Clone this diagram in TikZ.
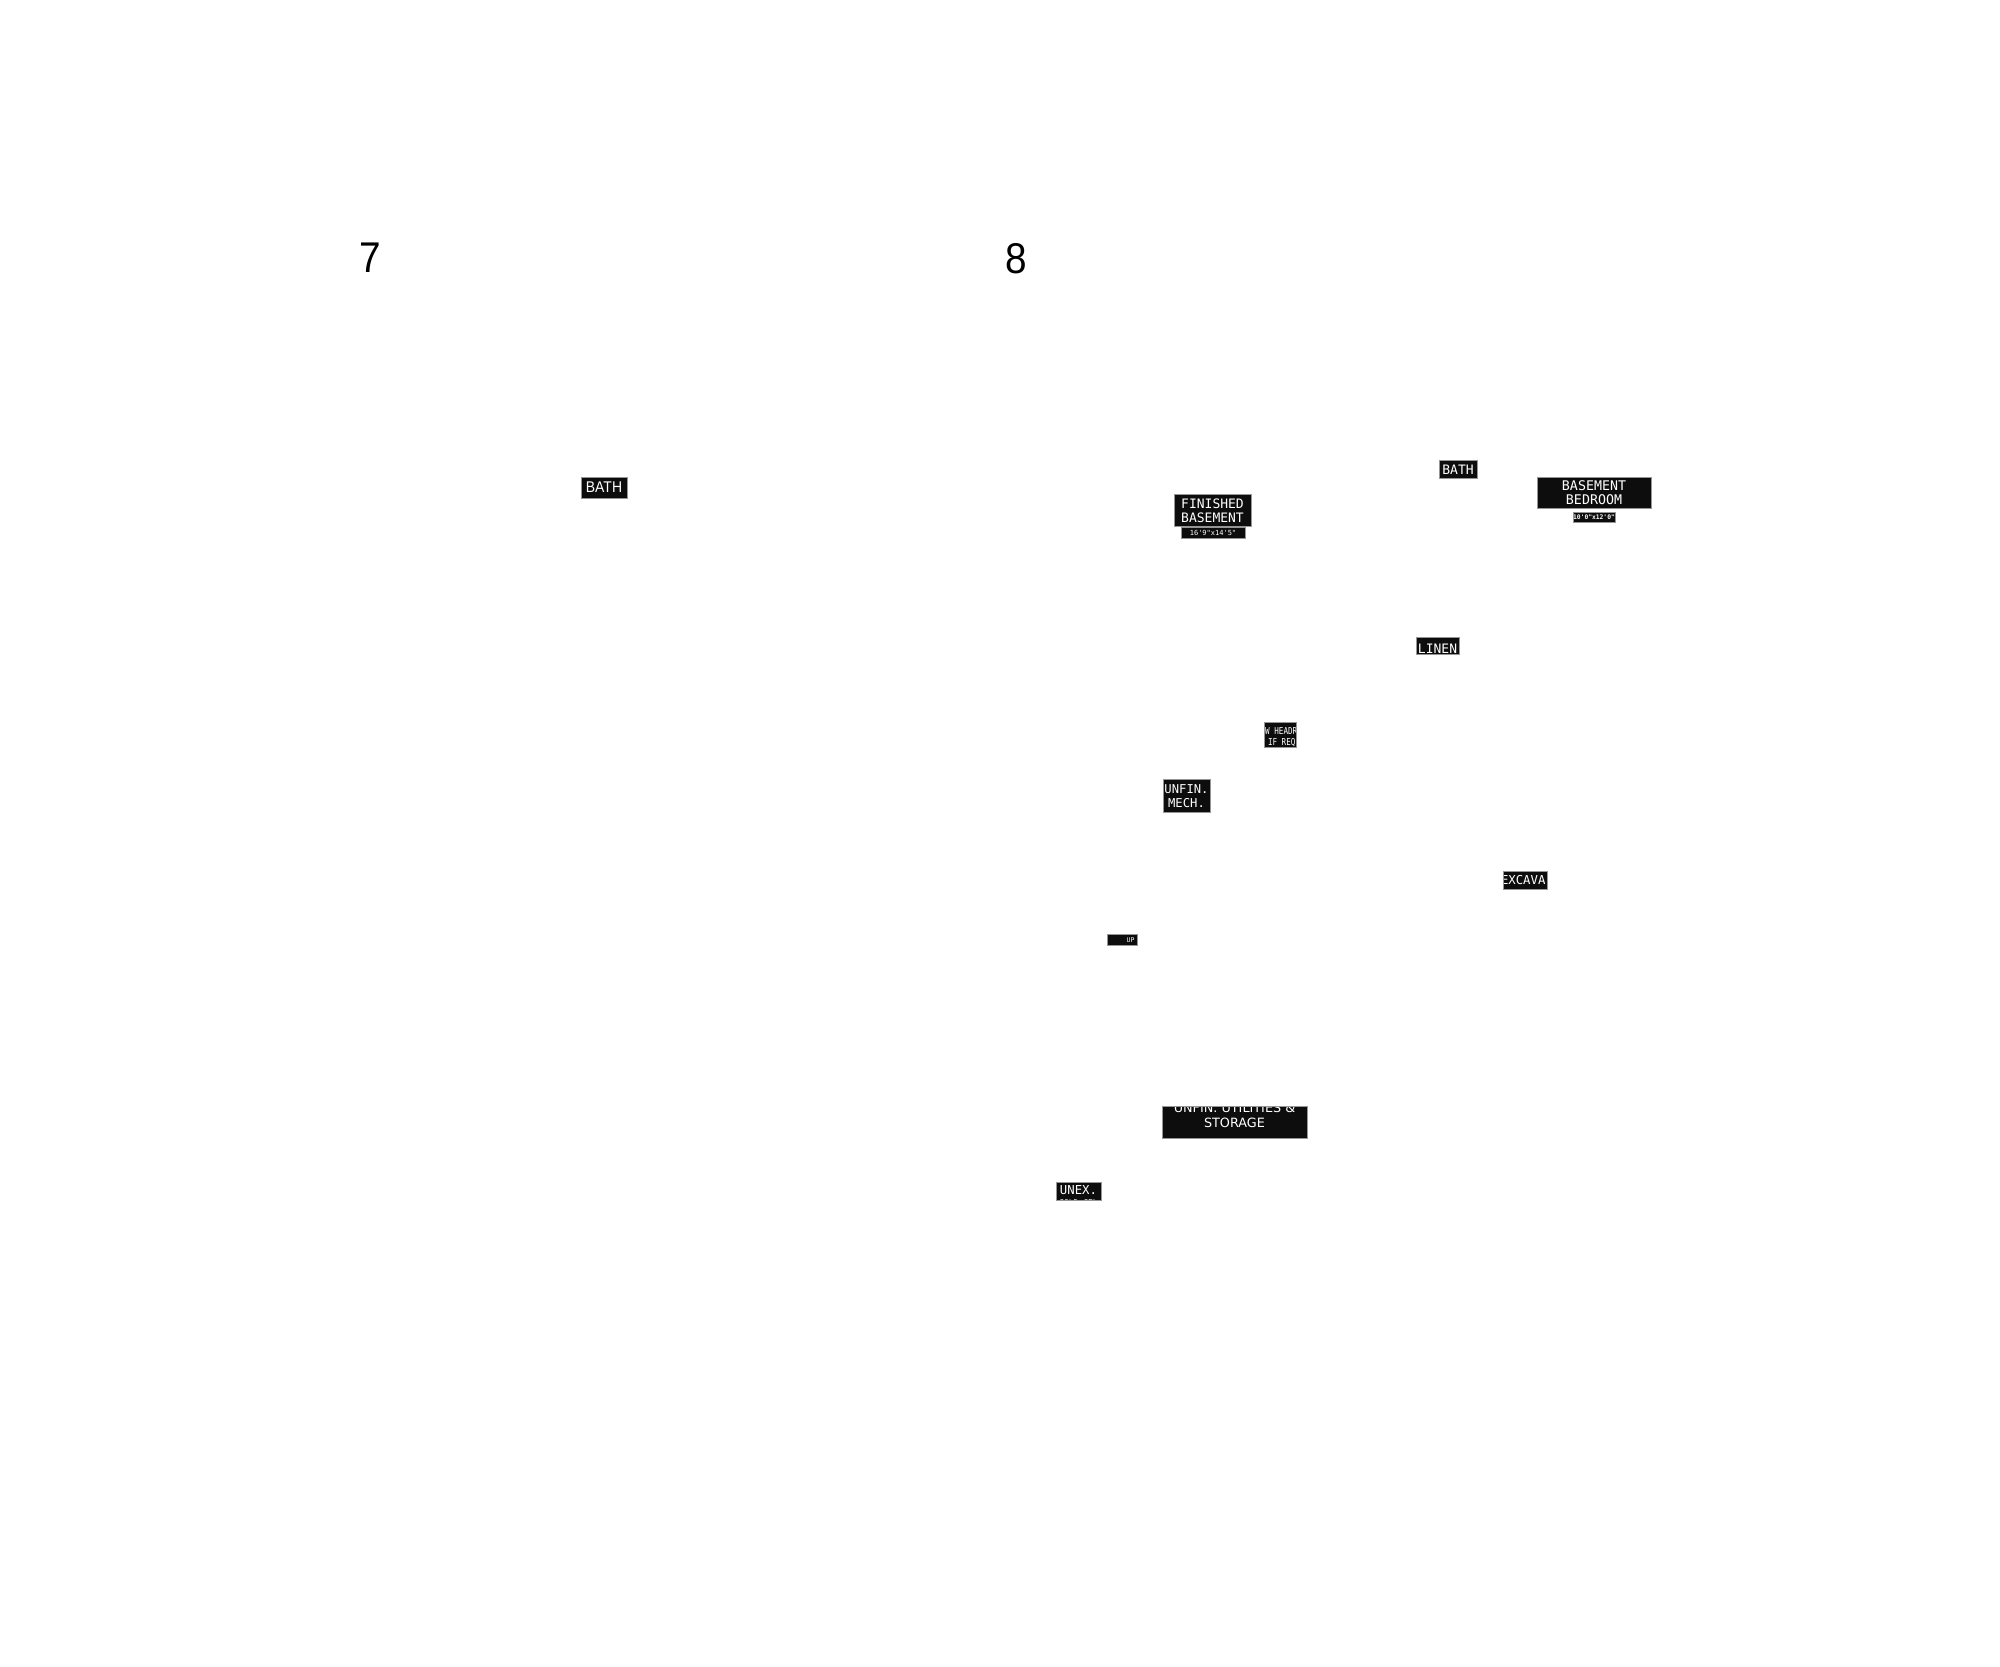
\documentclass[tikz,border=0pt]{standalone}
\usepackage{fontspec}
\setmainfont{Liberation Sans}
\newfontfamily\monof{DejaVu Sans Mono}[Ligatures=TeXOff]
\newfontfamily\sansf{DejaVu Sans}[Ligatures=TeXOff]
\tikzset{
  tagfill/.style={fill={rgb,255:red,13;green,13;blue,13}},
  tagline/.style={draw={rgb,255:red,150;green,150;blue,150},line width=0.7pt},
  tagtext/.style={text=white,inner sep=0pt,outer sep=0pt},
  bignum/.style={inner sep=0pt,outer sep=0pt,font=\fontsize{43}{43}\selectfont,anchor=base west,xscale=0.9}
}
% #1 x1, #2 y1, #3 x2, #4 y2, #5 contents (nodes)
\newcommand\roomtag[5]{%
  \begin{scope}
    \fill[tagfill] (#1,#2) rectangle (#3,#4);
    \clip (#1,#2) rectangle (#3,#4);
    #5
  \end{scope}
  \draw[tagline] (#1,#2) rectangle (#3,#4);
}
\begin{document}
\begin{tikzpicture}[x=1pt,y=-1pt]
\useasboundingbox (0,0) rectangle (2000,1666);

\node[bignum] (n7) at (359,272) {7};
\node[bignum] (n8) at (1005,273) {8};

% left BATH
\roomtag{581}{477}{627}{498}{%
  \node[tagtext,anchor=base,font=\fontsize{15.5}{15.5}\selectfont,xscale=0.9] (bathL) at (604,492) {BATH};}

% FINISHED BASEMENT
\roomtag{1174}{494}{1251}{526}{%
  \node[tagtext,anchor=base,font=\monof\fontsize{13}{13}\selectfont] (finA) at (1212.5,508.5) {FINISHED};
  \node[tagtext,anchor=base,font=\monof\fontsize{13}{13}\selectfont] (finB) at (1212.5,522.5) {BASEMENT};}
\roomtag{1181}{527}{1245}{538}{%
  \node[tagtext,anchor=base,font=\monof\fontsize{7}{7}\selectfont] (finC) at (1213,535.5) {16'9"x14'5"};}

% right BATH
\roomtag{1439}{460}{1477}{478}{%
  \node[tagtext,anchor=base,font=\monof\fontsize{13}{13}\selectfont] (bathR) at (1458,474) {BATH};}

% BASEMENT BEDROOM
\roomtag{1537}{477}{1651}{508}{%
  \node[tagtext,anchor=base,font=\monof\fontsize{13.3}{13.3}\selectfont] (bedA) at (1594,490) {BASEMENT};
  \node[tagtext,anchor=base,font=\monof\fontsize{13.3}{13.3}\selectfont] (bedB) at (1594,504.5) {BEDROOM};}
\roomtag{1573}{512}{1615}{522}{%
  \node[tagtext,anchor=base,font=\monof\bfseries\fontsize{6.3}{6.3}\selectfont] (bedC) at (1594,519.5) {10'0"x12'0"};}

% LINEN
\roomtag{1416}{637}{1459}{654}{%
  \node[tagtext,anchor=base,font=\monof\fontsize{13}{13}\selectfont] (linen) at (1437.5,653.5) {LINEN};}

% header note
\roomtag{1264}{722}{1296}{747}{%
  \node[tagtext,anchor=base west,font=\monof\fontsize{9.5}{9.5}\selectfont,xscale=0.8] (hdrA) at (1265.2,734) {W HEADR};
  \node[tagtext,anchor=base west,font=\monof\fontsize{9.5}{9.5}\selectfont,xscale=0.8] (hdrB) at (1268,745) {IF REQ'D};}

% UNFIN. MECH.
\roomtag{1163}{779}{1210}{812}{%
  \node[tagtext,anchor=base,font=\monof\fontsize{12.2}{12.2}\selectfont] (mechA) at (1186.5,793.5) {UNFIN.};
  \node[tagtext,anchor=base,font=\monof\fontsize{12.2}{12.2}\selectfont] (mechB) at (1186.5,807.5) {MECH.};}

% EXCAVA
\roomtag{1503}{871}{1547}{889}{%
  \node[tagtext,anchor=base west,font=\monof\fontsize{12.3}{12.3}\selectfont] (exc) at (1501,884) {EXCAVA};}

% UP
\roomtag{1107}{934}{1137}{945}{%
  \node[tagtext,anchor=base east,font=\monof\fontsize{6.5}{6.5}\selectfont] (up) at (1134.5,942.5) {UP};}

% UNFIN. UTILITIES & STORAGE
\roomtag{1162}{1106}{1307}{1138}{%
  \node[tagtext,anchor=base,font=\sansf\fontsize{12.8}{12.8}\selectfont] (utilA) at (1234.5,1112) {UNFIN. UTILITIES \&};
  \node[tagtext,anchor=base,font=\sansf\fontsize{12.8}{12.8}\selectfont] (utilB) at (1234.5,1127.5) {STORAGE};}

% UNEX.
\roomtag{1056}{1182}{1101}{1200}{%
  \node[tagtext,anchor=base,font=\monof\fontsize{12.3}{12.3}\selectfont] (unexA) at (1078.5,1194.5) {UNEX.};
  \node[tagtext,anchor=base,font=\monof\fontsize{8}{8}\selectfont] (unexB) at (1078.5,1205.5) {COLD CEL};}
\end{tikzpicture}
\end{document}
